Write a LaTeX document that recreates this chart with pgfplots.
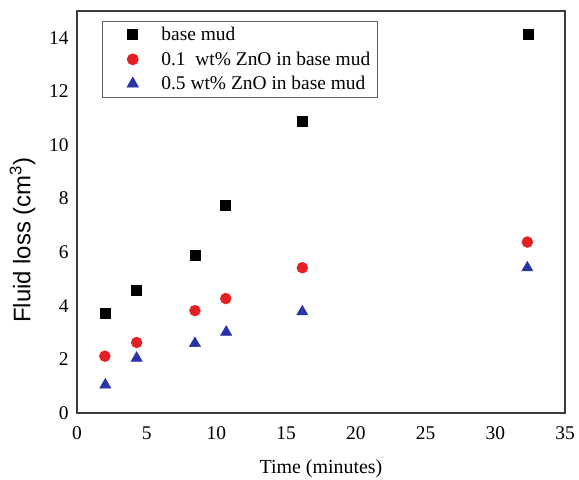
\documentclass[border=0pt]{standalone}
\usepackage{pgfplots}
\pgfplotsset{compat=1.18}
\usepackage{fontspec}
\setmainfont{Liberation Serif}
\setsansfont{Liberation Sans}
\definecolor{axgray}{RGB}{60,60,60}
\definecolor{mred}{RGB}{228,32,36}
\definecolor{mblue}{RGB}{40,52,168}
\begin{document}
\begin{tikzpicture}
\begin{axis}[
  scale only axis,
  width=488bp, height=402bp,
  xmin=0, xmax=35, ymin=0, ymax=15,
  xtick={0,5,...,35}, ytick={0,2,...,14},
  major tick length=0pt,
  axis line style={axgray, line width=1.4bp},
  tick label style={font=\rmfamily\fontsize{19.5}{21}\selectfont},
  /pgf/number format/assume math mode=true,
  xticklabel style={yshift=-10bp},
  yticklabel style={xshift=-5bp},
  xlabel={Time (minutes)},
  xlabel style={font=\fontsize{20}{22}\selectfont, at={(axis description cs:0.5,0)}, anchor=center, yshift=-56bp},
  ylabel={\sffamily Fluid loss (cm\textsuperscript{3})},
  ylabel style={font=\fontsize{24}{26}\selectfont, at={(axis description cs:-0.1117,0.430)}, anchor=center},
  legend style={at={(25bp,392bp)}, anchor=north west, draw=axgray!80, line width=0.8bp,
    font=\fontsize{19.5}{21}\selectfont, inner xsep=7bp, inner ysep=6bp,
    nodes={inner sep=0bp}, row sep=9.5bp,
    /tikz/every odd column/.append style={column sep=23bp}},
  legend image code/.code={\path (-23bp,0bp); \draw[#1, only marks] plot coordinates {(0bp,0bp)};},
  legend cell align=left,
  clip=false,
]
\addplot[only marks, mark=square*, mark size=5bp, black] coordinates {
 (2.0,3.72) (4.25,4.6) (8.45,5.88) (10.6,7.74) (16.15,10.87) (32.35,14.12)};
\addlegendentry{base mud}
\addplot[only marks, mark=*, mark size=5.5bp, mred] coordinates {
 (2.0,2.12) (4.28,2.63) (8.46,3.82) (10.67,4.27) (16.16,5.42) (32.3,6.38)};
\addlegendentry{0.1\ \ wt\% ZnO in base mud}
\addplot[only marks, mark=triangle*, mark size=6.5bp, mblue] coordinates {
 (2.03,1.05) (4.28,2.05) (8.46,2.6) (10.7,3.02) (16.16,3.78) (32.3,5.42)};
\addlegendentry{0.5 wt\% ZnO in base mud}
\end{axis}
\pgfresetboundingbox
\useasboundingbox (-77bp,-67bp) rectangle (502bp,413bp);
\end{tikzpicture}
\end{document}
